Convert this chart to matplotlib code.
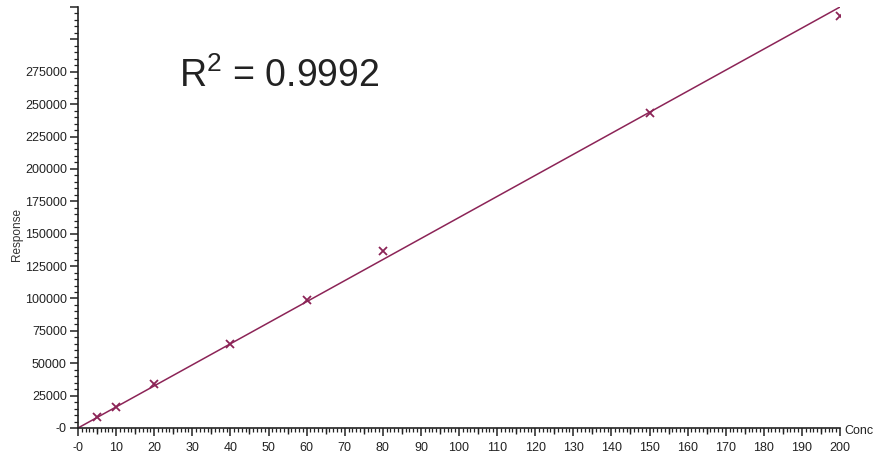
import matplotlib
matplotlib.use("Agg")
import matplotlib.pyplot as plt
from matplotlib.ticker import MultipleLocator, FixedLocator, FuncFormatter

plt.rcParams['font.family'] = ['Liberation Sans', 'DejaVu Sans']
plt.rcParams['mathtext.default'] = 'regular'

conc = [5, 10, 20, 40, 60, 80, 150, 200]
response = [8500, 16200, 34000, 64900, 98900, 136700, 243000, 318300]
fit_x = [0, 200]
fit_y = [0, 325000]
r2_text = "R$^2$ = 0.9992"
color = "#8c2457"

fig = plt.figure(figsize=(8.82, 4.62), dpi=100)
ax = fig.add_axes([78/882, 34/462, (840-78)/882, (428-7)/462])

ax.plot(fit_x, fit_y, color=color, lw=1.1, zorder=2)
ax.plot(conc, response, linestyle='none', marker='x', color=color, ms=6, mew=1.3, zorder=3)

ax.set_xlim(0, 200)
ax.set_ylim(0, 325000)
for s in ['top', 'right']:
    ax.spines[s].set_visible(False)
for s in ['left', 'bottom']:
    ax.spines[s].set_linewidth(1.2)
    ax.spines[s].set_color('#222222')

ax.xaxis.set_major_locator(MultipleLocator(10))
ax.xaxis.set_minor_locator(MultipleLocator(1))
ax.yaxis.set_major_locator(MultipleLocator(25000))
ax.yaxis.set_minor_locator(MultipleLocator(5000))

def xfmt(v, p):
    return "-0" if v == 0 else f"{v:.0f}"
def yfmt(v, p):
    if v == 0:
        return "-0"
    if v > 275000:
        return ""
    return f"{v:.0f}"
ax.xaxis.set_major_formatter(FuncFormatter(xfmt))
ax.yaxis.set_major_formatter(FuncFormatter(yfmt))

ax.tick_params(axis='both', which='major', direction='out', length=6, width=1.1,
               labelsize=9, colors='#222222', pad=2)
ax.tick_params(axis='x', which='major', pad=4)
ax.tick_params(axis='both', which='minor', direction='out', length=3, width=0.9, colors='#222222')

# medium ticks at 5s on x
sec = ax.secondary_xaxis('bottom')
sec.spines['bottom'].set_visible(False)
sec.xaxis.set_major_locator(FixedLocator(list(range(5, 200, 10))))
sec.tick_params(direction='out', length=4.5, width=1.0, labelbottom=False, colors='#222222')

ax.set_ylabel("Response", fontsize=8.5, color='#333333')
ax.yaxis.set_label_coords(-0.072, 0.46)
ax.text(1.006, -0.008, "Conc", transform=ax.transAxes, fontsize=9, color='#222222',
        ha='left', va='center')
ax.text(0.132, 0.835, r2_text, transform=ax.transAxes, fontsize=27, color='#222222',
        ha='left', va='center')

fig.savefig("out.png", dpi=100)
